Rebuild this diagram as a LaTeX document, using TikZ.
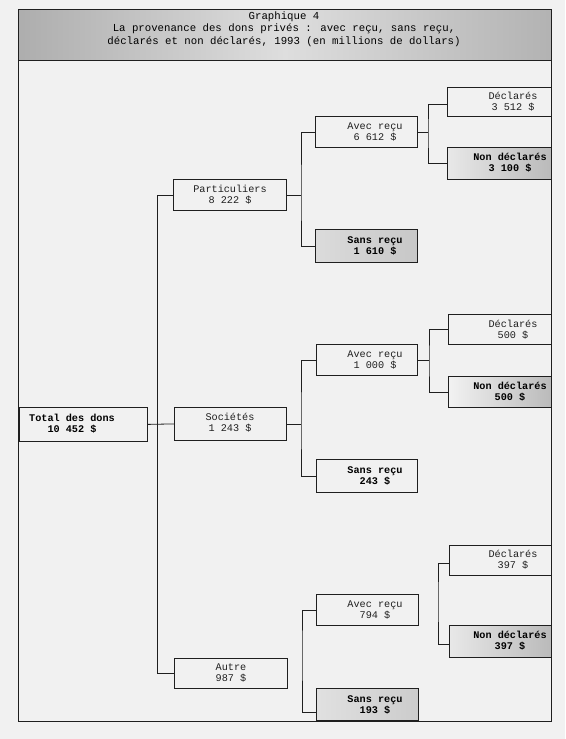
\documentclass[tikz,border=0pt]{standalone}
\usepackage{fontspec}
\setmainfont{Liberation Mono}
\setmonofont{Liberation Mono}
\definecolor{paper}{gray}{0.945}
\definecolor{ink}{gray}{0.12}
\begin{document}
\begin{tikzpicture}[x=1pt,y=-1pt,
  font=\fontsize{10.2}{11}\selectfont,
  box/.style={draw=ink, line width=0.8pt, inner sep=0pt, anchor=north west, fill=paper},
  shbox/.style={box, left color=black!9, right color=black!27},
  txt/.style={align=center, inner sep=0pt, text=ink},
  btxt/.style={txt, font=\fontsize{10.2}{11}\selectfont\bfseries, text=black},
  link/.style={draw=ink, line width=0.8pt}]
\useasboundingbox (0,0) rectangle (565,739);
\fill[paper] (0,0) rectangle (565,739);
% title and frame
\node[box, left color=black!32, right color=black!30, middle color=black!13,
      minimum width=533pt, minimum height=51pt] (title) at (18,9) {};
\node[txt, text=black, font=\fontsize{10.7}{12.3}\selectfont] (titletext) at (284,29)
  {Graphique 4\\La provenance des dons privés : avec reçu, sans reçu,\\déclarés et non déclarés, 1993 (en millions de dollars)};
\node[draw=ink, line width=0.8pt, inner sep=0pt, anchor=north west,
      minimum width=533pt, minimum height=661pt] (frame) at (18,60) {};
% level 0 and 1
\node[box, minimum width=128pt, minimum height=34pt] (total) at (19,407) {};
\node[btxt] (totalt) at (72,424) {Total des dons\\10 452 \$};
\node[box, minimum width=113pt, minimum height=31pt] (part) at (173,179) {};
\node[txt] (partt) at (230,195) {Particuliers\\8 222 \$};
\node[box, minimum width=112pt, minimum height=33pt] (soc) at (174,407) {};
\node[txt] (soct) at (230,423) {Sociétés\\1 243 \$};
\node[box, minimum width=113pt, minimum height=30pt] (autre) at (174,658) {};
\node[txt] (autret) at (231,673) {Autre\\987 \$};
% level 2
\node[box, minimum width=102pt, minimum height=31pt] (ar1) at (315,116) {};
\node[txt] (ar1t) at (375,132) {Avec reçu\\6 612 \$};
\node[shbox, left color=black!14, right color=black!22, minimum width=102pt, minimum height=33pt] (sr1) at (315,229) {};
\node[btxt] (sr1t) at (375,246) {Sans reçu\\1 610 \$};
\node[box, minimum width=101pt, minimum height=31pt] (ar2) at (316,344) {};
\node[txt] (ar2t) at (375,360) {Avec reçu\\1 000 \$};
\node[box, minimum width=101pt, minimum height=33pt] (sr2) at (316,459) {};
\node[btxt] (sr2t) at (375,476) {Sans reçu\\243 \$};
\node[box, minimum width=102pt, minimum height=31pt] (ar3) at (316,594) {};
\node[txt] (ar3t) at (375,610) {Avec reçu\\794 \$};
\node[shbox, left color=black!12, right color=black!20, minimum width=102pt, minimum height=32pt] (sr3) at (316,688) {};
\node[btxt] (sr3t) at (375,705) {Sans reçu\\193 \$};
% level 3
\node[box, minimum width=104pt, minimum height=29pt] (d1) at (447,87) {};
\node[txt] (d1t) at (513,102) {Déclarés\\3 512 \$};
\node[shbox, minimum width=104pt, minimum height=32pt] (n1) at (447,147) {};
\node[btxt] (n1t) at (510,163) {Non déclarés\\3 100 \$};
\node[box, minimum width=103pt, minimum height=30pt] (d2) at (448,314) {};
\node[txt] (d2t) at (513,330) {Déclarés\\500 \$};
\node[shbox, left color=black!5, minimum width=103pt, minimum height=31pt] (n2) at (448,376) {};
\node[btxt] (n2t) at (510,392) {Non déclarés\\500 \$};
\node[box, minimum width=102pt, minimum height=30pt] (d3) at (449,545) {};
\node[txt] (d3t) at (513,560) {Déclarés\\397 \$};
\node[shbox, minimum width=102pt, minimum height=32pt] (n3) at (449,625) {};
\node[btxt] (n3t) at (510,641) {Non déclarés\\397 \$};
% connectors
\coordinate (t) at (157,423);
\draw[link] (total.east) -- (soc.west);
\draw[link] (part.west) -| (t);
\draw[link] (autre.west) -| (t);
\coordinate (j1) at (301,196);
\draw[link] (part.east) -- (part.east -| j1);
\draw[link] (ar1.west) -| (j1) |- (sr1.west);
\coordinate (j2) at (301,423);
\draw[link] (soc.east) -- (soc.east -| j2);
\draw[link] (ar2.west) -| (j2) |- (sr2.west);
\coordinate (j3) at (302,650);
\draw[link] (ar3.west) -| (j3) |- ([yshift=-8pt]sr3.west);
\coordinate (k1) at (428,133);
\draw[link] (ar1.east) -- (ar1.east -| k1);
\draw[link] ([yshift=-2pt]d1.west) -| (k1) |- (n1.west);
\coordinate (k2) at (429,361);
\draw[link] (ar2.east) -- (ar2.east -| k2);
\draw[link] (d2.west) -| (k2) |- (n2.west);
\coordinate (k3) at (438,600);
\draw[link] ([yshift=-3pt]d3.west) -| (k3) |- ([yshift=-3pt]n3.west);
\end{tikzpicture}
\end{document}
